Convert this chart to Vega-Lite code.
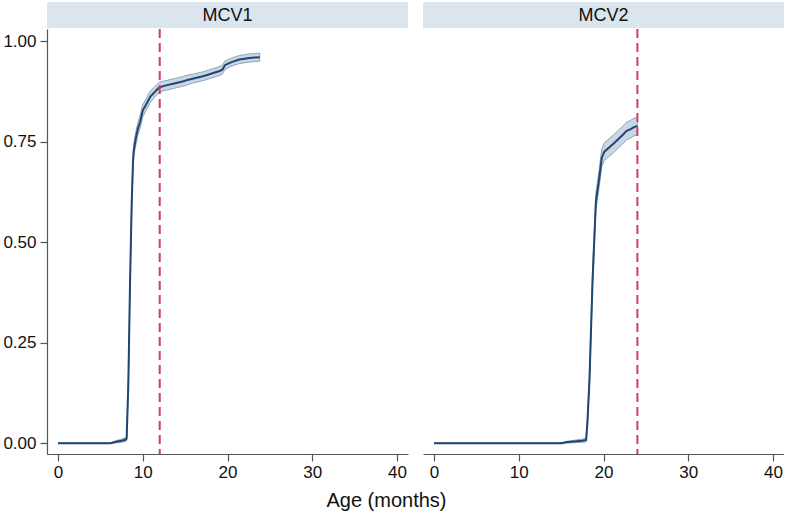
{
  "$schema": "https://vega.github.io/schema/vega-lite/v6.json",
  "padding": {"left": 2, "top": 2, "right": 0, "bottom": 0},
  "background": "white",
  "datasets": {
    "curve": [
      {"panel": "MCV1", "age": 0, "est": 0, "lo": 0, "hi": 0},
      {"panel": "MCV1", "age": 3, "est": 0, "lo": 0, "hi": 0},
      {"panel": "MCV1", "age": 6.2, "est": 0, "lo": 0, "hi": 0},
      {"panel": "MCV1", "age": 6.6, "est": 0.002, "lo": 0.0, "hi": 0.004},
      {"panel": "MCV1", "age": 7.0, "est": 0.004, "lo": 0.001, "hi": 0.007},
      {"panel": "MCV1", "age": 7.5, "est": 0.006, "lo": 0.002, "hi": 0.010},
      {"panel": "MCV1", "age": 8.0, "est": 0.009, "lo": 0.004, "hi": 0.014},
      {"panel": "MCV1", "age": 8.1, "est": 0.012, "lo": 0.007, "hi": 0.017},
      {"panel": "MCV1", "age": 8.3, "est": 0.15, "lo": 0.14, "hi": 0.16},
      {"panel": "MCV1", "age": 8.5, "est": 0.40, "lo": 0.388, "hi": 0.412},
      {"panel": "MCV1", "age": 8.7, "est": 0.60, "lo": 0.585, "hi": 0.615},
      {"panel": "MCV1", "age": 8.85, "est": 0.70, "lo": 0.685, "hi": 0.715},
      {"panel": "MCV1", "age": 8.95, "est": 0.73, "lo": 0.714, "hi": 0.746},
      {"panel": "MCV1", "age": 9.2, "est": 0.76, "lo": 0.744, "hi": 0.776},
      {"panel": "MCV1", "age": 9.4, "est": 0.78, "lo": 0.764, "hi": 0.796},
      {"panel": "MCV1", "age": 9.7, "est": 0.80, "lo": 0.784, "hi": 0.816},
      {"panel": "MCV1", "age": 10.0, "est": 0.827, "lo": 0.812, "hi": 0.842},
      {"panel": "MCV1", "age": 10.4, "est": 0.842, "lo": 0.827, "hi": 0.857},
      {"panel": "MCV1", "age": 10.9, "est": 0.862, "lo": 0.848, "hi": 0.876},
      {"panel": "MCV1", "age": 11.4, "est": 0.873, "lo": 0.860, "hi": 0.886},
      {"panel": "MCV1", "age": 11.9, "est": 0.884, "lo": 0.871, "hi": 0.897},
      {"panel": "MCV1", "age": 12.4, "est": 0.888, "lo": 0.876, "hi": 0.900},
      {"panel": "MCV1", "age": 13.0, "est": 0.891, "lo": 0.879, "hi": 0.903},
      {"panel": "MCV1", "age": 13.6, "est": 0.894, "lo": 0.882, "hi": 0.906},
      {"panel": "MCV1", "age": 14.2, "est": 0.897, "lo": 0.885, "hi": 0.909},
      {"panel": "MCV1", "age": 14.8, "est": 0.900, "lo": 0.888, "hi": 0.912},
      {"panel": "MCV1", "age": 15.4, "est": 0.904, "lo": 0.892, "hi": 0.916},
      {"panel": "MCV1", "age": 16.0, "est": 0.907, "lo": 0.896, "hi": 0.918},
      {"panel": "MCV1", "age": 16.6, "est": 0.910, "lo": 0.899, "hi": 0.921},
      {"panel": "MCV1", "age": 17.2, "est": 0.913, "lo": 0.902, "hi": 0.924},
      {"panel": "MCV1", "age": 17.8, "est": 0.917, "lo": 0.906, "hi": 0.928},
      {"panel": "MCV1", "age": 18.4, "est": 0.921, "lo": 0.910, "hi": 0.932},
      {"panel": "MCV1", "age": 19.0, "est": 0.925, "lo": 0.914, "hi": 0.936},
      {"panel": "MCV1", "age": 19.4, "est": 0.929, "lo": 0.918, "hi": 0.940},
      {"panel": "MCV1", "age": 19.7, "est": 0.940, "lo": 0.929, "hi": 0.951},
      {"panel": "MCV1", "age": 20.2, "est": 0.945, "lo": 0.935, "hi": 0.955},
      {"panel": "MCV1", "age": 20.8, "est": 0.950, "lo": 0.940, "hi": 0.960},
      {"panel": "MCV1", "age": 21.4, "est": 0.954, "lo": 0.944, "hi": 0.964},
      {"panel": "MCV1", "age": 22.0, "est": 0.956, "lo": 0.946, "hi": 0.966},
      {"panel": "MCV1", "age": 22.6, "est": 0.958, "lo": 0.948, "hi": 0.968},
      {"panel": "MCV1", "age": 23.2, "est": 0.959, "lo": 0.949, "hi": 0.969},
      {"panel": "MCV1", "age": 23.8, "est": 0.960, "lo": 0.950, "hi": 0.970},
      {"panel": "MCV2", "age": 0, "est": 0, "lo": 0, "hi": 0},
      {"panel": "MCV2", "age": 8, "est": 0, "lo": 0, "hi": 0},
      {"panel": "MCV2", "age": 15.1, "est": 0, "lo": 0, "hi": 0},
      {"panel": "MCV2", "age": 15.5, "est": 0.002, "lo": 0.0, "hi": 0.004},
      {"panel": "MCV2", "age": 16.5, "est": 0.004, "lo": 0.001, "hi": 0.007},
      {"panel": "MCV2", "age": 17.5, "est": 0.006, "lo": 0.002, "hi": 0.010},
      {"panel": "MCV2", "age": 17.95, "est": 0.008, "lo": 0.003, "hi": 0.013},
      {"panel": "MCV2", "age": 18.1, "est": 0.05, "lo": 0.04, "hi": 0.06},
      {"panel": "MCV2", "age": 18.35, "est": 0.16, "lo": 0.145, "hi": 0.175},
      {"panel": "MCV2", "age": 18.7, "est": 0.40, "lo": 0.38, "hi": 0.42},
      {"panel": "MCV2", "age": 19.1, "est": 0.60, "lo": 0.578, "hi": 0.622},
      {"panel": "MCV2", "age": 19.5, "est": 0.66, "lo": 0.638, "hi": 0.682},
      {"panel": "MCV2", "age": 19.8, "est": 0.71, "lo": 0.688, "hi": 0.732},
      {"panel": "MCV2", "age": 20.1, "est": 0.725, "lo": 0.703, "hi": 0.747},
      {"panel": "MCV2", "age": 20.7, "est": 0.736, "lo": 0.714, "hi": 0.758},
      {"panel": "MCV2", "age": 21.2, "est": 0.745, "lo": 0.723, "hi": 0.767},
      {"panel": "MCV2", "age": 21.7, "est": 0.755, "lo": 0.733, "hi": 0.777},
      {"panel": "MCV2", "age": 22.2, "est": 0.765, "lo": 0.743, "hi": 0.787},
      {"panel": "MCV2", "age": 22.7, "est": 0.776, "lo": 0.754, "hi": 0.798},
      {"panel": "MCV2", "age": 23.2, "est": 0.781, "lo": 0.759, "hi": 0.803},
      {"panel": "MCV2", "age": 23.6, "est": 0.786, "lo": 0.764, "hi": 0.808},
      {"panel": "MCV2", "age": 24.0, "est": 0.789, "lo": 0.767, "hi": 0.811}
    ],
    "refs": [
      {"panel": "MCV1", "age": 12},
      {"panel": "MCV2", "age": 24}
    ]
  },
  "title": {
    "text": "Age (months)",
    "orient": "bottom",
    "anchor": "middle",
    "fontSize": 20,
    "fontWeight": "normal",
    "font": "Liberation Sans",
    "color": "#111111",
    "offset": 11,
    "dx": -7
  },
  "columns": 2,
  "spacing": {"row": 0, "column": 15},
  "concat": [
    {
      "width": 361,
      "height": 26,
      "view": {"fill": "#dbe5ed", "stroke": null},
      "data": {"values": [{"panel": "MCV1"}]},
      "mark": {"type": "text", "fontSize": 18, "font": "Liberation Sans", "color": "#111111", "baseline": "middle", "dy": 1},
      "encoding": {"text": {"field": "panel"}}
    },
    {
      "width": 361,
      "height": 26,
      "view": {"fill": "#dbe5ed", "stroke": null},
      "data": {"values": [{"panel": "MCV2"}]},
      "mark": {"type": "text", "fontSize": 18, "font": "Liberation Sans", "color": "#111111", "baseline": "middle", "dy": 1},
      "encoding": {"text": {"field": "panel"}}
    },
    {
      "width": 361,
      "height": 425,
      "view": {"stroke": null},
      "encoding": {
        "x": {
          "field": "age", "type": "quantitative",
          "scale": {"domain": [-1.3, 41.3], "nice": false, "zero": false},
          "axis": {"title": null, "values": [0, 10, 20, 30, 40]}
        }
      },
      "layer": [
        {
          "data": {"name": "curve"},
          "transform": [{"filter": "datum.panel === 'MCV1'"}],
          "mark": {"type": "area", "fill": "#c9d6e3", "stroke": "#8ea4bb", "strokeWidth": 1},
          "encoding": {
            "y": {
              "field": "lo", "type": "quantitative",
              "scale": {"domain": [-0.027, 1.03], "nice": false, "zero": false},
              "axis": {"title": null, "values": [0, 0.25, 0.5, 0.75, 1], "format": ".2f"}
            },
            "y2": {"field": "hi"}
          }
        },
        {
          "data": {"name": "curve"},
          "transform": [{"filter": "datum.panel === 'MCV1'"}],
          "mark": {"type": "line", "color": "#1f4670", "strokeWidth": 2},
          "encoding": {
            "y": {"field": "est", "type": "quantitative", "axis": {"title": null}}
          }
        },
        {
          "data": {"name": "refs"},
          "transform": [{"filter": "datum.panel === 'MCV1'"}],
          "mark": {"type": "rule", "color": "#d43a62", "strokeWidth": 2, "strokeDash": [9, 5]},
          "encoding": {}
        }
      ]
    },
    {
      "width": 361,
      "height": 425,
      "view": {"stroke": null},
      "encoding": {
        "x": {
          "field": "age", "type": "quantitative",
          "scale": {"domain": [-1.3, 41.3], "nice": false, "zero": false},
          "axis": {"title": null, "values": [0, 10, 20, 30, 40]}
        }
      },
      "layer": [
        {
          "data": {"name": "curve"},
          "transform": [{"filter": "datum.panel === 'MCV2'"}],
          "mark": {"type": "area", "fill": "#c9d6e3", "stroke": "#8ea4bb", "strokeWidth": 1},
          "encoding": {
            "y": {
              "field": "lo", "type": "quantitative",
              "scale": {"domain": [-0.027, 1.03], "nice": false, "zero": false},
              "axis": null
            },
            "y2": {"field": "hi"}
          }
        },
        {
          "data": {"name": "curve"},
          "transform": [{"filter": "datum.panel === 'MCV2'"}],
          "mark": {"type": "line", "color": "#1f4670", "strokeWidth": 2},
          "encoding": {
            "y": {"field": "est", "type": "quantitative", "axis": null}
          }
        },
        {
          "data": {"name": "refs"},
          "transform": [{"filter": "datum.panel === 'MCV2'"}],
          "mark": {"type": "rule", "color": "#d43a62", "strokeWidth": 2, "strokeDash": [9, 5]},
          "encoding": {}
        }
      ]
    }
  ],
  "config": {
    "font": "Liberation Sans",
    "axis": {
      "grid": false,
      "domainColor": "#555555",
      "domainWidth": 1.2,
      "tickColor": "#555555",
      "tickSize": 7,
      "tickWidth": 1.2,
      "labelFontSize": 17,
      "labelColor": "#111111",
      "labelFont": "Liberation Sans",
      "labelPadding": 4
    },
    "axisX": {"labelPadding": 3}
  }
}
